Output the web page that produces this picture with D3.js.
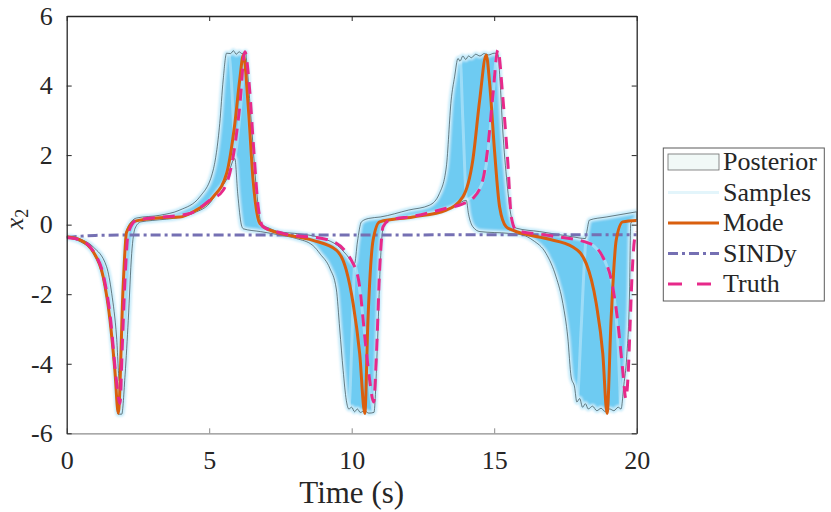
<!DOCTYPE html>
<html>
<head>
<meta charset="utf-8">
<script src="https://cdn.jsdelivr.net/npm/d3@7"></script>
<style>
  body { margin: 0; background: #fff; }
  svg text { font-family: "Liberation Serif", "DejaVu Serif", serif; fill: #262626; }
</style>
</head>
<body>
<svg id="chart" width="831" height="512"></svg>
<script>
// ---- data (time in s, x2) ----
const xTicks = [0, 5, 10, 15, 20];
const yTicks = [-6, -4, -2, 0, 2, 4, 6];
const legendLabels = ["Posterior", "Samples", "Mode", "SINDy", "Truth"];

const truth = [
  [0,-0.37],[0.5,-0.45],[1.0,-0.85],[1.3,-1.5],[1.55,-2.8],[1.72,-4.3],[1.87,-5.14],[1.95,-3.5],
  [2.05,-1.5],[2.16,-0.24],[2.45,0.13],[3.27,0.21],[4.32,0.32],[5.02,0.7],[5.49,0.99],[5.84,1.95],
  [6.07,3.39],[6.25,4.97],[6.42,3.87],[6.54,2.43],[6.72,0.51],[6.89,-0.06],[7.59,-0.25],[9.23,-0.45],
  [10.05,-1.12],[10.28,-1.79],[10.46,-3.23],[10.63,-4.47],[10.77,-5.1],[10.87,-3.7],[10.98,-1.31],
  [11.1,-0.06],[11.33,0.13],[12.15,0.24],[13.32,0.47],[13.9,0.6],[14.25,0.75],[14.6,1.28],[14.78,2.24],
  [14.95,3.68],[15.13,5.02],[15.3,3.68],[15.48,1.76],[15.6,0.22],[15.77,-0.16],[16.82,-0.3],
  [18.34,-0.54],[18.81,-0.93],[19.16,-1.79],[19.33,-2.75],[19.51,-4.19],[19.62,-5.0],[19.7,-4.3],
  [19.77,-2.84],[19.84,-1.4],[19.92,-0.45],[20,-0.2]
];

const mode = [
  [0,-0.35],[0.5,-0.45],[0.93,-0.78],[1.28,-1.5],[1.52,-2.75],[1.69,-4.19],[1.81,-5.42],[1.98,-1.79],
  [2.1,-0.22],[2.4,0.1],[3.27,0.2],[3.97,0.22],[4.5,0.4],[5.14,0.8],[5.61,1.47],[5.9,2.91],[6.07,4.16],
  [6.2,4.88],[6.37,3.39],[6.54,1.28],[6.78,0.03],[7.13,-0.16],[7.48,-0.25],[8.64,-0.45],[9.46,-0.73],
  [9.81,-1.31],[10.05,-2.27],[10.28,-3.71],[10.46,-5.43],[10.57,-2.75],[10.75,-0.45],[10.98,0.08],
  [12.15,0.22],[13.32,0.42],[13.9,0.8],[14.25,1.86],[14.49,3.58],[14.72,4.88],[14.84,4.06],[15.01,2.14],
  [15.19,0.51],[15.42,-0.06],[15.65,-0.16],[16.82,-0.4],[17.76,-0.64],[18.23,-1.12],[18.58,-2.27],
  [18.81,-3.71],[18.96,-5.43],[19.1,-2.75],[19.28,-0.45],[19.51,0.08],[20,0.12]
];

const sindy = [
  [0,-0.37],[0.5,-0.33],[1,-0.31],[2,-0.3],[5,-0.3],[10,-0.3],[15,-0.29],[20,-0.29]
];

const postUpper = [
  [0,-0.33],[0.5,-0.42],[0.93,-0.64],[1.4,-1.21],[1.58,-1.98],[1.75,-3.23],[1.85,-4.5],[1.9,-4.2],
  [1.98,-1.79],[2.1,-0.16],[2.45,0.19],[3.27,0.27],[3.97,0.42],[4.67,0.8],[5.14,1.57],[5.37,2.91],
  [5.49,4.16],[5.61,4.93],[5.75,4.92],[5.85,5.0],[5.95,4.9],[6.05,4.97],[6.15,4.92],[6.28,4.97],
  [6.31,4.73],[6.48,2.91],[6.66,0.99],[6.83,0.03],[7.13,-0.11],[7.48,-0.21],[8.0,-0.25],[9.0,-0.4],
  [9.5,-0.6],[9.8,-0.85],[10.1,-1.12],[10.2,-0.5],[10.34,0.08],[10.6,0.18],[11.0,0.22],[12.0,0.42],
  [12.73,0.56],[13.08,0.9],[13.32,1.66],[13.49,3.58],[13.61,4.25],[13.73,4.78],[13.8,4.7],[13.9,4.85],
  [14.0,4.75],[14.1,4.85],[14.2,4.8],[14.35,4.9],[14.5,4.85],[14.65,4.92],[14.8,4.88],[15.0,4.93],
  [15.13,4.9],[15.2,4.2],[15.3,2.72],[15.45,1.2],[15.6,0.22],[15.77,-0.1],[16.6,-0.2],[17.76,-0.35],
  [18.2,-0.4],[18.25,-0.2],[18.34,0.13],[18.93,0.22],[20,0.37]
];

const postLower = [
  [0,-0.38],[0.5,-0.5],[0.93,-0.82],[1.28,-1.58],[1.52,-2.85],[1.69,-4.3],[1.8,-5.45],[1.93,-5.45],
  [2.05,-4.3],[2.16,-2.75],[2.28,-0.83],[2.4,-0.1],[2.6,0.08],[3.0,0.12],[4.0,0.22],[4.5,0.35],
  [5.0,0.6],[5.3,0.95],[5.6,1.28],[5.9,1.9],[6.0,0.9],[6.13,-0.01],[6.2,-0.12],[6.8,-0.2],[7.5,-0.3],
  [8.06,-0.4],[8.64,-0.6],[8.9,-0.85],[9.23,-1.25],[9.46,-1.85],[9.58,-3.0],[9.7,-4.19],[9.81,-5.05],
  [9.9,-5.3],[10.0,-5.25],[10.1,-5.38],[10.2,-5.3],[10.3,-5.4],[10.45,-5.35],[10.6,-5.42],[10.78,-5.4],
  [10.9,-3.5],[11.0,-1.2],[11.1,-0.1],[11.25,0.1],[12.0,0.2],[13.0,0.35],[13.6,0.52],[14.02,0.7],
  [14.1,0.3],[14.25,-0.06],[14.5,-0.2],[15.5,-0.25],[16.0,-0.3],[16.36,-0.45],[16.82,-0.83],
  [17.17,-1.5],[17.41,-2.27],[17.58,-3.23],[17.7,-4.38],[17.82,-4.67],[17.9,-5.1],[18.0,-5.0],
  [18.1,-5.25],[18.2,-5.15],[18.3,-5.3],[18.45,-5.22],[18.6,-5.35],[18.75,-5.28],[18.9,-5.38],
  [19.05,-5.3],[19.2,-5.35],[19.35,-5.25],[19.45,-5.3],[19.55,-4.6],[19.65,-3.8],[19.75,-1.88],
  [19.79,0.03],[19.9,0.12],[20,0.14]
];

// earliest and latest of the posterior samples
const sampleEarly = [
  [0,-0.36],[0.5,-0.48],[0.93,-0.8],[1.28,-1.55],[1.52,-2.8],[1.69,-4.25],[1.8,-5.45],[1.98,-1.79],
  [2.1,-0.16],[2.45,0.19],[3.27,0.27],[3.97,0.42],[4.67,0.8],[5.14,1.57],[5.37,2.91],[5.49,4.16],
  [5.61,4.93],[5.7,4.9],[5.8,3.8],[5.9,1.95],[6.0,0.9],[6.13,-0.01],[6.2,-0.12],[6.8,-0.2],[7.5,-0.3],
  [8.06,-0.4],[8.64,-0.6],[8.9,-0.85],[9.23,-1.25],[9.46,-1.85],[9.58,-3.0],[9.7,-4.19],[9.81,-5.05],
  [9.9,-5.3],[10.0,-3.5],[10.1,-1.12],[10.2,-0.5],[10.34,0.08],[10.6,0.18],[11.0,0.22],[12.0,0.42],
  [12.73,0.56],[13.08,0.9],[13.32,1.66],[13.49,3.58],[13.61,4.25],[13.73,4.78],[13.8,4.85],[13.9,3.0],
  [14.02,0.7],[14.1,0.3],[14.25,-0.06],[14.5,-0.2],[15.5,-0.25],[16.0,-0.3],[16.36,-0.45],[16.82,-0.83],
  [17.17,-1.5],[17.41,-2.27],[17.58,-3.23],[17.7,-4.38],[17.82,-4.67],[17.9,-5.15],[18.05,-3.0],
  [18.2,-0.6],[18.34,0.13],[18.93,0.22],[20,0.37]
];

const sampleLate = [
  [0,-0.33],[0.5,-0.42],[0.93,-0.64],[1.4,-1.21],[1.58,-1.98],[1.75,-3.23],[1.87,-4.67],[1.93,-5.4],
  [2.05,-4.3],[2.16,-2.75],[2.28,-0.83],[2.4,-0.1],[2.6,0.08],[3.0,0.12],[4.0,0.22],[4.5,0.35],
  [5.0,0.6],[5.3,0.95],[5.6,1.28],[5.9,1.9],[6.05,2.9],[6.2,4.3],[6.31,4.9],[6.48,2.91],[6.66,0.99],
  [6.83,0.03],[7.13,-0.11],[7.48,-0.21],[8.0,-0.25],[9.0,-0.4],[9.5,-0.6],[9.8,-0.85],[10.1,-1.12],
  [10.3,-2.0],[10.5,-3.5],[10.65,-4.8],[10.78,-5.38],[10.9,-3.5],[11.0,-1.2],[11.1,-0.1],[11.25,0.1],
  [12.0,0.2],[13.0,0.35],[13.6,0.52],[14.02,0.7],[14.3,0.85],[14.6,1.25],[14.8,2.2],[14.95,3.6],
  [15.1,4.9],[15.2,4.2],[15.3,2.72],[15.45,1.2],[15.6,0.22],[15.77,-0.1],[16.6,-0.2],[17.76,-0.35],
  [18.3,-0.5],[18.6,-0.7],[19.0,-1.3],[19.2,-2.0],[19.35,-3.5],[19.45,-5.24],[19.65,-3.8],[19.75,-1.88],
  [19.79,0.03],[19.9,0.12],[20,0.14]
];
const samples = [sampleEarly, sampleLate];

// ---- layout ----
const svg = d3.select("#chart"),
      margin = {top: 16, right: 194.3, bottom: 78.7, left: 66.7},
      width = +svg.attr("width"),
      height = +svg.attr("height");

const x = d3.scaleLinear().domain([0, 20]).range([margin.left, width - margin.right]);
const y = d3.scaleLinear().domain([-6, 6]).range([height - margin.bottom, margin.top]);

const colors = {
  band: "#6ecbf2", bandEdge: "#c6ebfa", outline: "#34474d",
  mode: "#d95f0e", sindy: "#7570b3", truth: "#e7298a"
};

svg.append("defs").append("clipPath").attr("id", "plotClip")
  .append("rect")
  .attr("x", x(0)).attr("y", y(6))
  .attr("width", x(20) - x(0)).attr("height", y(-6) - y(6));

svg.select("defs").append("filter").attr("id", "soft")
  .append("feGaussianBlur").attr("stdDeviation", 1.2);

const line = d3.line()
  .x(d => x(d[0]))
  .y(d => y(d[1]))
  .curve(d3.curveMonotoneX);

const plot = svg.append("g").attr("clip-path", "url(#plotClip)");

// posterior band: upper edge forward, lower edge back
const bandPath = line(postUpper) + "L" + line(postLower.slice().reverse()).slice(1) + "Z";

plot.append("path")
  .attr("d", bandPath)
  .attr("fill", colors.band)
  .attr("stroke", colors.bandEdge)
  .attr("stroke-width", 5)
  .attr("filter", "url(#soft)");

// samples
samples.forEach(s => {
  plot.append("path")
    .attr("d", line(s))
    .attr("fill", "none")
    .attr("stroke", "#d6f1fc")
    .attr("stroke-width", 3)
    .attr("stroke-opacity", 0.45);
});

plot.append("path")
  .attr("d", bandPath)
  .attr("fill", "none")
  .attr("stroke", colors.outline)
  .attr("stroke-width", 0.7);

plot.append("path")
  .attr("d", line(sindy))
  .attr("fill", "none")
  .attr("stroke", colors.sindy)
  .attr("stroke-width", 3)
  .attr("stroke-dasharray", "10,4,3,4");

plot.append("path")
  .attr("d", line(mode))
  .attr("fill", "none")
  .attr("stroke", colors.mode)
  .attr("stroke-width", 3);

plot.append("path")
  .attr("d", line(truth))
  .attr("fill", "none")
  .attr("stroke", colors.truth)
  .attr("stroke-width", 3)
  .attr("stroke-dasharray", "12,8");

// ---- axes (MATLAB style: ticks inside, box on) ----
const tickLen = 5;
const axisColor = "#262626";
const fmt = d => String(d);

const xAxisB = d3.axisBottom(x).tickValues(xTicks).tickFormat(fmt).tickSizeInner(-tickLen).tickSizeOuter(0).tickPadding(17);
const xAxisT = d3.axisTop(x).tickValues(xTicks).tickSizeInner(-tickLen).tickSizeOuter(0).tickFormat("");
const yAxisL = d3.axisLeft(y).tickValues(yTicks).tickFormat(fmt).tickSizeInner(-tickLen).tickSizeOuter(0).tickPadding(14);
const yAxisR = d3.axisRight(y).tickValues(yTicks).tickSizeInner(-tickLen).tickSizeOuter(0).tickFormat("");

function style(g, col) {
  g.selectAll("path.domain").attr("stroke", col).attr("stroke-width", 1.3);
  g.selectAll(".tick line").attr("stroke", col);
  g.selectAll(".tick text").attr("font-family", '"Liberation Serif", "DejaVu Serif", serif').attr("font-size", 26).attr("fill", "#262626");
}

svg.append("g").attr("transform", `translate(0,${y(-6)})`).call(xAxisB).call(g => style(g, "#8c8c8c"));
svg.append("g").attr("transform", `translate(0,${y(6)})`).call(xAxisT).call(g => style(g, axisColor));
svg.append("g").attr("transform", `translate(${x(0)},0)`).call(yAxisL).call(g => style(g, axisColor));
svg.append("g").attr("transform", `translate(${x(20)},0)`).call(yAxisR).call(g => style(g, axisColor));

// axis labels
svg.append("text")
  .attr("x", (x(0) + x(20)) / 2)
  .attr("y", 503)
  .attr("text-anchor", "middle")
  .attr("font-size", 31)
  .text("Time (s)");

const yl = svg.append("text")
  .attr("transform", `translate(23,219) rotate(-90)`)
  .attr("text-anchor", "middle")
  .attr("font-size", 26);
yl.append("tspan").attr("font-style", "italic").text("x");
yl.append("tspan").attr("font-size", 18).attr("dy", 5).text("2");

// ---- legend ----
const lg = svg.append("g");
lg.append("rect")
  .attr("x", 663.3).attr("y", 148)
  .attr("width", 161).attr("height", 153)
  .attr("fill", "#fff").attr("stroke", "#5a5a5a").attr("stroke-width", 1);

const rowY = d3.scalePoint().domain(legendLabels).range([162, 284]);
const sw0 = 668, sw1 = 719;

legendLabels.forEach(lab => {
  const yy = rowY(lab);
  if (lab === "Posterior") {
    lg.append("rect").attr("x", sw0).attr("y", yy - 8).attr("width", sw1 - sw0).attr("height", 16)
      .attr("fill", "#f1f9f7").attr("stroke", "#6b6b6b").attr("stroke-width", 0.8);
  } else {
    const st = {
      Samples: {c: "#e3f5fb", d: null},
      Mode: {c: colors.mode, d: null},
      SINDy: {c: colors.sindy, d: "10,4,3,4"},
      Truth: {c: colors.truth, d: "14,15"}
    }[lab];
    lg.append("line").attr("x1", sw0).attr("x2", sw1).attr("y1", yy).attr("y2", yy)
      .attr("stroke", st.c).attr("stroke-width", 3)
      .attr("stroke-dasharray", st.d);
  }
  lg.append("text").attr("x", 723).attr("y", yy + 8)
    .attr("font-size", 26).text(lab);
});
</script>
</body>
</html>
